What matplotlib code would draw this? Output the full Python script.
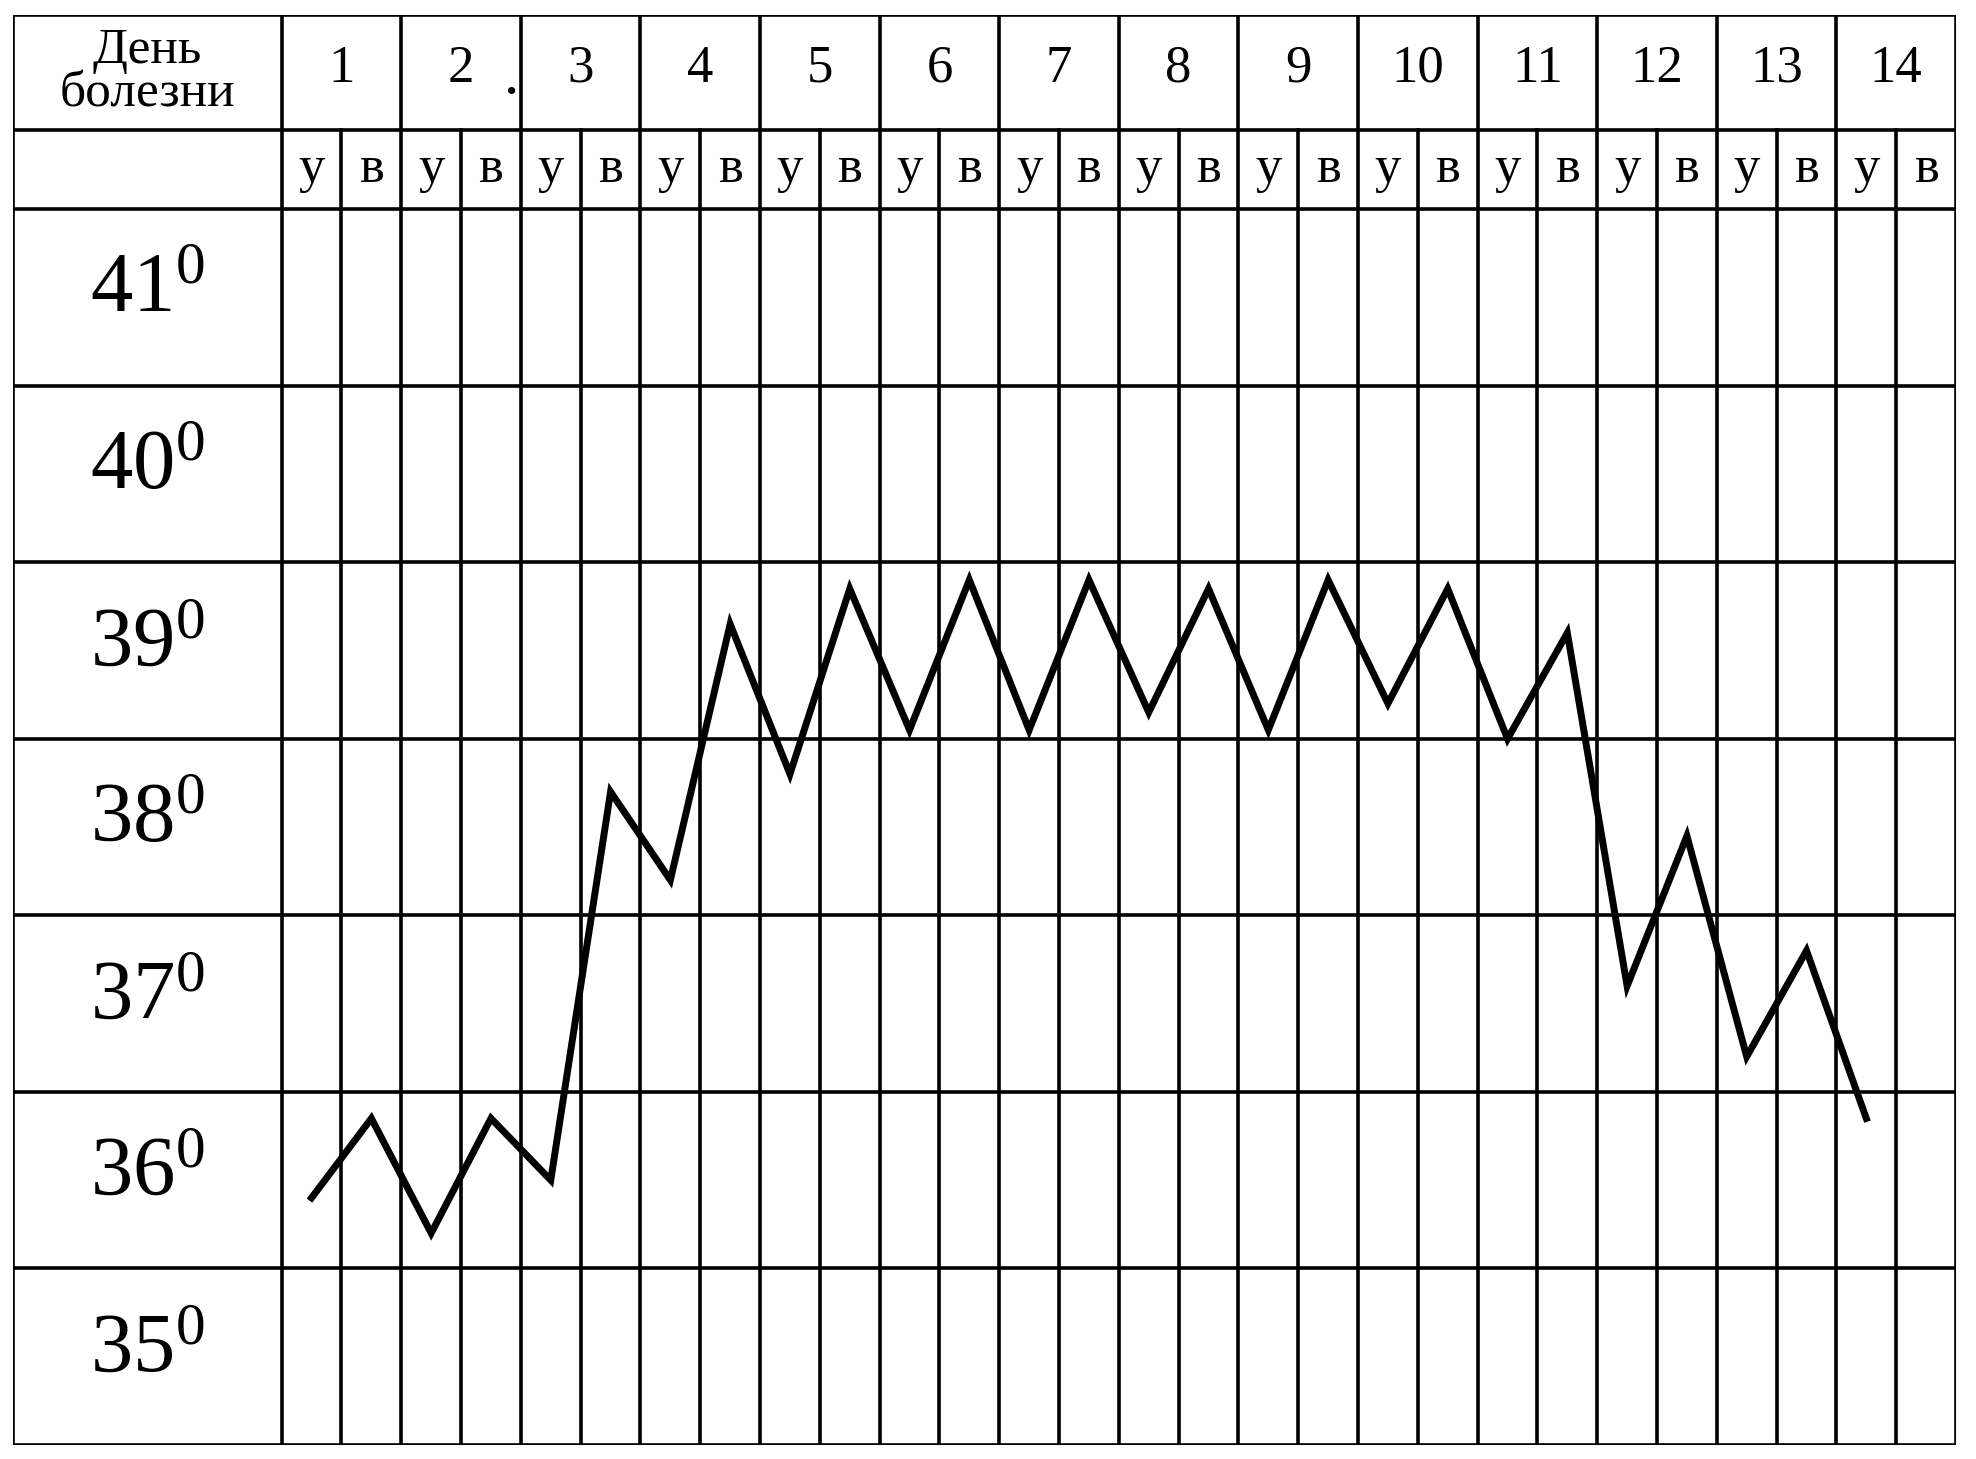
import matplotlib
matplotlib.use("Agg")
import matplotlib.pyplot as plt

# ---- data ----
days = [str(d) for d in range(1, 15)]
shifts = ["у", "в"]          # утро / вечер
temp_rows = [41, 40, 39, 38, 37, 36, 35]

# temperature readings, morning/evening, starting day 1 morning (27 readings)
temps = [36.4, 36.85, 36.2, 36.85, 36.5,
         38.7, 38.2, 39.65, 38.8, 39.85, 39.05, 39.9, 39.05, 39.9,
         39.15, 39.85, 39.05, 39.9, 39.2, 39.85, 39.0, 39.6,
         37.6, 38.45, 37.2, 37.8, 36.85]

plt.rcParams['mathtext.fontset'] = 'custom'
plt.rcParams['mathtext.rm'] = 'Liberation Serif'
plt.rcParams['mathtext.it'] = 'Liberation Serif:italic'
SERIF = 'Liberation Serif'

n_slots = len(days) * 2
label_w = 4.5                 # width of the left label column, in slot units
t_min, t_max = min(temp_rows), max(temp_rows) + 1
row2_h, row1_h = 0.45, 0.65   # header heights, in degree units
y_row2 = t_max + row2_h
y_top = y_row2 + row1_h

fig = plt.figure(figsize=(19.76, 14.59), dpi=100)
ax = fig.add_axes([12.6 / 1976, 14 / 1459, (1956 - 12.6) / 1976, (1445 - 15) / 1459])
ax.set_xlim(-label_w, n_slots)
ax.set_ylim(t_min, y_top)
ax.axis('off')

lw = 2.6
# horizontal grid lines
for y in list(range(t_min, t_max + 1)) + [y_row2, y_top]:
    ax.plot([-label_w, n_slots], [y, y], color='black', lw=lw, solid_capstyle='projecting')
# vertical lines
ax.plot([-label_w, -label_w], [t_min, y_top], color='black', lw=lw)
for x in range(0, n_slots + 1):
    top = y_top if x % 2 == 0 else y_row2
    ax.plot([x, x], [t_min, top], color='black', lw=lw)

# header texts
ax.text(-label_w / 2, (y_row2 + y_top) / 2, "День\nболезни", ha='center', va='center',
        fontsize=37, family=SERIF, linespacing=0.92)
for i, d in enumerate(days):
    ax.text(2 * i + 1, (y_row2 + y_top) / 2 + 0.02, d, ha='center', va='center',
            fontsize=38, family=SERIF)
ax.text(3.85, (y_row2 + y_top) / 2 - 0.06, ".", ha='center', va='center',
        fontsize=32, family=SERIF, fontweight='bold')
for s in range(n_slots):
    ax.text(s + 0.5, (t_max + y_row2) / 2, shifts[s % 2], ha='center', va='center',
            fontsize=38, family=SERIF)

# temperature labels
for t in temp_rows:
    ax.text(-label_w / 2, t + 0.55, r"$\mathrm{%d}^{\mathrm{0}}$" % t, ha='center',
            va='center', fontsize=61)

# temperature curve
xs = [i + 0.5 for i in range(len(temps))]
ax.plot(xs, temps, color='black', lw=5.0, solid_joinstyle='miter')

fig.savefig("out.png", dpi=100, facecolor='white')
